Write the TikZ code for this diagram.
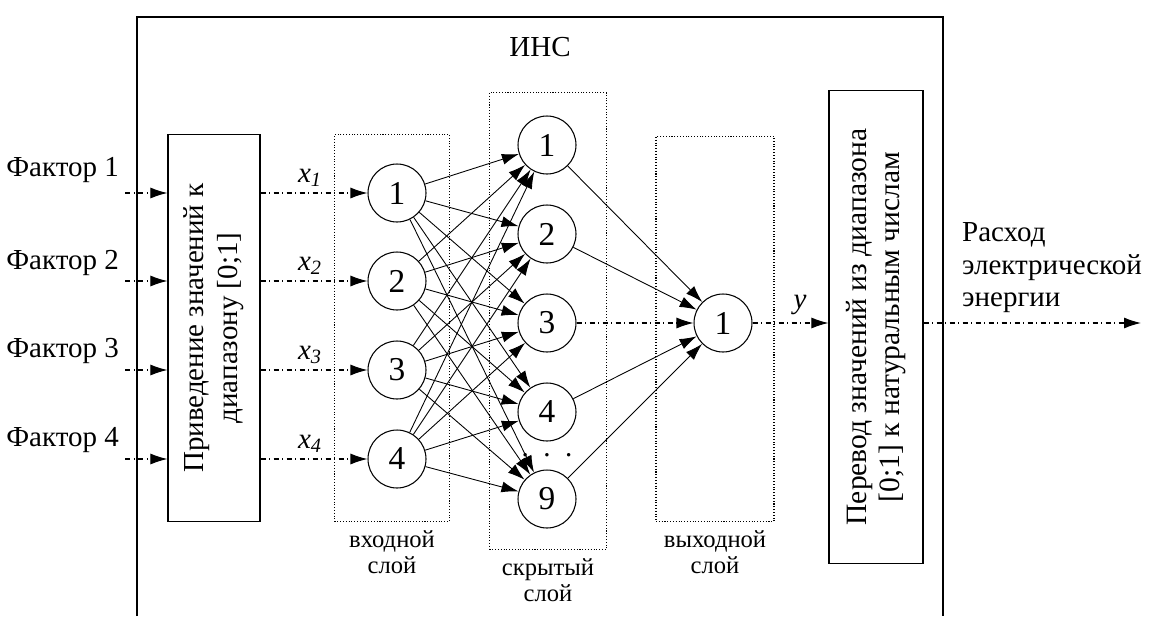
\documentclass[tikz,border=0pt]{standalone}
\usepackage{fontspec}
\setmainfont{Liberation Serif}
\usetikzlibrary{positioning,arrows.meta,calc}
\tikzset{
  neuron/.style={circle, draw, line width=0.6pt, minimum size=1.16cm, inner sep=0pt,
                 font=\fontsize{19}{21}\selectfont},
  block/.style={rectangle, draw, line width=0.7pt, minimum width=1.84cm},
  layerbox/.style={rectangle, draw, densely dotted, line width=0.6pt},
  caption/.style={align=center, font=\fontsize{14}{15}\selectfont},
  label/.style={font=\fontsize{16.5}{19}\selectfont},
  flow/.style={-{Latex[length=3.4mm,width=2.2mm]}, line width=0.5pt},
  sigflow/.style={-{Latex[length=3.4mm,width=2.2mm]}, dash dot, line width=0.6pt}
}
\begin{document}
\begin{tikzpicture}[x=0.02cm, y=-0.02cm]
\useasboundingbox (0,0) rectangle (1149,616);
% outer frame of the network
\draw[line width=0.7pt] (137,616) -- (137,17) -- (943,17) -- (943,616);
\node[label] (ins) at (540,47) {ИНС};

% layer frames
\node[layerbox, minimum width=2.3cm, minimum height=7.74cm] (inbox) at (392,328) {};
\node[layerbox, minimum width=2.34cm, minimum height=9.14cm] (hidbox) at (548,321) {};
\node[layerbox, minimum width=2.36cm, minimum height=7.7cm] (outbox) at (715,329) {};
\node[caption, below=0.05cm of inbox] (incap) {входной\\слой};
\node[caption, below=0.05cm of hidbox] (hidcap) {скрытый\\слой};
\node[caption, below=0.05cm of outbox] (outcap) {выходной\\слой};

% scaling blocks
\node[block, minimum height=7.74cm] (norm) at (214,328) {};
\node[label, rotate=90, align=center, font=\fontsize{16.5}{19.5}\selectfont] (normtxt) at (norm)
  {Приведение значений к\\диапазону [0;1]};
\node[block, minimum width=1.88cm, minimum height=9.46cm] (back) at (876,327) {};
\node[label, rotate=90, align=center, font=\fontsize{16.8}{18.5}\selectfont] (backtxt) at (back)
  {Перевод значений из диапазона\\{[0;1]} к натуральным числам};

% neurons
\node[neuron] (i1) at (397,193) {1};
\node[neuron] (i2) at (397,281) {2};
\node[neuron] (i3) at (397,370) {3};
\node[neuron] (i4) at (397,459) {4};
\node[neuron] (h1) at (547,145) {1};
\node[neuron] (h2) at (547,234) {2};
\node[neuron] (h3) at (547,323) {3};
\node[neuron] (h4) at (547,412) {4};
\node[neuron] (h9) at (547,499) {9};
\node[label] (hdots) at (547,455) {.\ \ .\ \ .};
\node[neuron] (o1) at (723,323) {1};

% factors
\node[label, anchor=east] (f1) at (125,170) {Фактор 1};
\node[label, anchor=east] (f2) at (125,263) {Фактор 2};
\node[label, anchor=east] (f3) at (125,351) {Фактор 3};
\node[label, anchor=east] (f4) at (125,440) {Фактор 4};
\draw[sigflow] (f1.east |- i1) -- (norm.west |- i1);
\draw[sigflow] (f2.east |- i2) -- (norm.west |- i2);
\draw[sigflow] (f3.east |- i3) -- (norm.west |- i3);
\draw[sigflow] (f4.east |- i4) -- (norm.west |- i4);

% normalised inputs
\draw[sigflow] (norm.east |- i1) -- (i1);
\draw[sigflow] (norm.east |- i2) -- (i2);
\draw[sigflow] (norm.east |- i3) -- (i3);
\draw[sigflow] (norm.east |- i4) -- (i4);
\node[label] (x1) at (310,178) {\textit{x}\textsubscript{\textit{1}}};
\node[label] (x2) at (310,266) {\textit{x}\textsubscript{\textit{2}}};
\node[label] (x3) at (310,355) {\textit{x}\textsubscript{\textit{3}}};
\node[label] (x4) at (310,444) {\textit{x}\textsubscript{\textit{4}}};

% full connection input -> hidden
\foreach \i in {1,...,4}
  \foreach \h in {1,2,3,4,9}
    \draw[flow] (i\i) -- (h\h);

% hidden -> output
\draw[flow] (h1) -- (o1);
\draw[flow] (h2) -- (o1);
\draw[sigflow] (h3) -- (o1);
\draw[flow] (h4) -- (o1);
\draw[flow] (h9) -- (o1);

% output signal
\draw[sigflow] (o1) -- (back.west |- o1);
\node[label] (ylab) at (800,305) {\textit{y}};
\coordinate (res) at (1141,323);
\draw[sigflow] (back.east |- o1) -- (res);
\node[label, anchor=west, align=left, font=\fontsize{16.5}{18.5}\selectfont] (restxt) at (956,268)
  {Расход\\электрической\\энергии};
\end{tikzpicture}
\end{document}
